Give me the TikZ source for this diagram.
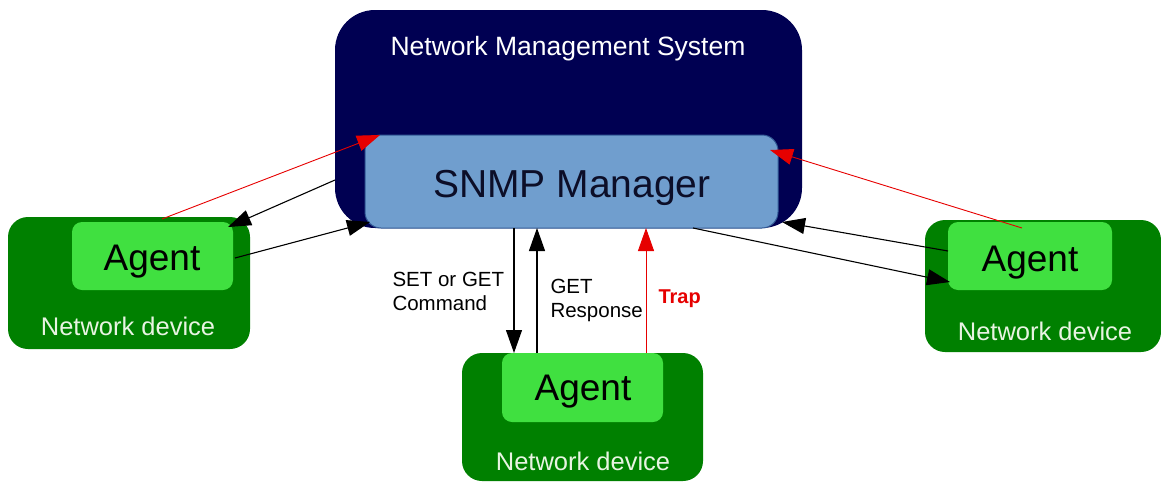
\documentclass[tikz,border=0pt]{standalone}
\usepackage{fontspec}
\setmainfont{Liberation Sans}
\usetikzlibrary{arrows.meta}
\definecolor{navy}{RGB}{0,0,82}
\definecolor{snmpblue}{RGB}{112,158,206}
\definecolor{snmpedge}{RGB}{50,90,150}
\definecolor{snmptext}{RGB}{12,14,40}
\definecolor{devgreen}{RGB}{0,128,0}
\definecolor{agentgreen}{RGB}{64,224,64}
\definecolor{devtext}{RGB}{232,244,226}
\definecolor{traprd}{RGB}{230,0,0}
\begin{document}
\begin{tikzpicture}[x=1pt,y=-1pt,
  box/.style={rectangle, anchor=north west, inner sep=0pt, outer sep=0pt},
  nmsbox/.style={box, fill=navy, rounded corners=40pt},
  snmpbox/.style={box, fill=snmpblue, draw=snmpedge, line width=1pt, rounded corners=16pt},
  devbox/.style={box, fill=devgreen, rounded corners=20pt},
  agentbox/.style={box, fill=agentgreen, rounded corners=10pt},
  agenttext/.style={anchor=base, text=black, font=\fontsize{37}{42}\selectfont},
  devlabel/.style={anchor=base, text=devtext, font=\fontsize{25.5}{30}\selectfont},
  msglabel/.style={anchor=base west, align=left, text=black, font=\fontsize{20.5}{23.5}\selectfont},
  blackarrow/.style={draw=black, line width=1.1pt, -{Triangle[length=23pt,width=16pt]}},
  redarrow/.style={draw=traprd, line width=0.9pt, -{Triangle[length=23pt,width=16pt]}}
]
\useasboundingbox (0,0) rectangle (1161,482);

% Network Management System
\node[nmsbox, minimum width=467pt, minimum height=218pt] (nms) at (335,10) {};
\node[anchor=base, text=white, font=\fontsize{26.5}{31}\selectfont] (nmstitle) at (568,55) {Network Management System};
\node[snmpbox, minimum width=413pt, minimum height=93pt] (snmp) at (365,135) {};
\node[anchor=base, text=snmptext, font=\fontsize{39}{44}\selectfont] (snmptitle) at (572,197) {SNMP Manager};

% Left device
\node[devbox, minimum width=242pt, minimum height=132pt] (devL) at (8,217) {};
\node[agentbox, minimum width=161pt, minimum height=68pt] (agentL) at (72,222) {};
\node[agenttext] (agentLt) at (152,270) {Agent};
\node[devlabel] (devLt) at (128,335) {Network device};

% Right device
\node[devbox, minimum width=236pt, minimum height=132pt] (devR) at (925,220) {};
\node[agentbox, minimum width=164pt, minimum height=68pt] (agentR) at (948,222) {};
\node[agenttext] (agentRt) at (1030,271) {Agent};
\node[devlabel] (devRt) at (1045,340) {Network device};

% Bottom device
\node[devbox, minimum width=241pt, minimum height=128pt] (devB) at (462,353) {};
\node[agentbox, minimum width=161pt, minimum height=69pt] (agentB) at (502,353) {};
\node[agenttext] (agentBt) at (583,400) {Agent};
\node[devlabel] (devBt) at (583,470) {Network device};

% connector end points
\coordinate (lRedS) at (162,219);
\coordinate (lRedE) at (380,135);
\coordinate (lCmdS) at (335,180);
\coordinate (lCmdE) at (228,227);
\coordinate (lRspS) at (235,258);
\coordinate (lRspE) at (370,222);

\coordinate (rRedS) at (1022,228);
\coordinate (rRedE) at (770,150);
\coordinate (rRspS) at (948,251);
\coordinate (rRspE) at (782,222);
\coordinate (rCmdS) at (693,228);
\coordinate (rCmdE) at (950,282);

\coordinate (bCmdS) at (514,228);
\coordinate (bCmdE) at (514,353);
\coordinate (bRspS) at (537,353);
\coordinate (bRspE) at (537,228);
\coordinate (bTrpS) at (646,353);
\coordinate (bTrpE) at (646,228);

% connectors
\draw[redarrow] (lRedS) -- (lRedE);
\draw[blackarrow] (lCmdS) -- (lCmdE);
\draw[blackarrow] (lRspS) -- (lRspE);

\draw[redarrow] (rRedS) -- (rRedE);
\draw[blackarrow] (rRspS) -- (rRspE);
\draw[blackarrow] (rCmdS) -- (rCmdE);

\draw[blackarrow] (bCmdS) -- (bCmdE);
\draw[blackarrow] (bRspS) -- (bRspE);
\draw[redarrow] (bTrpS) -- (bTrpE);

% labels
\node[msglabel] (cmdlbl) at (389,310) {SET or GET\\Command};
\node[msglabel] (rsplbl) at (547,317) {GET\\Response};
\node[anchor=base west, text=traprd, font=\bfseries\fontsize{20}{23}\selectfont] (traplbl) at (655,303) {Trap};
\end{tikzpicture}
\end{document}
